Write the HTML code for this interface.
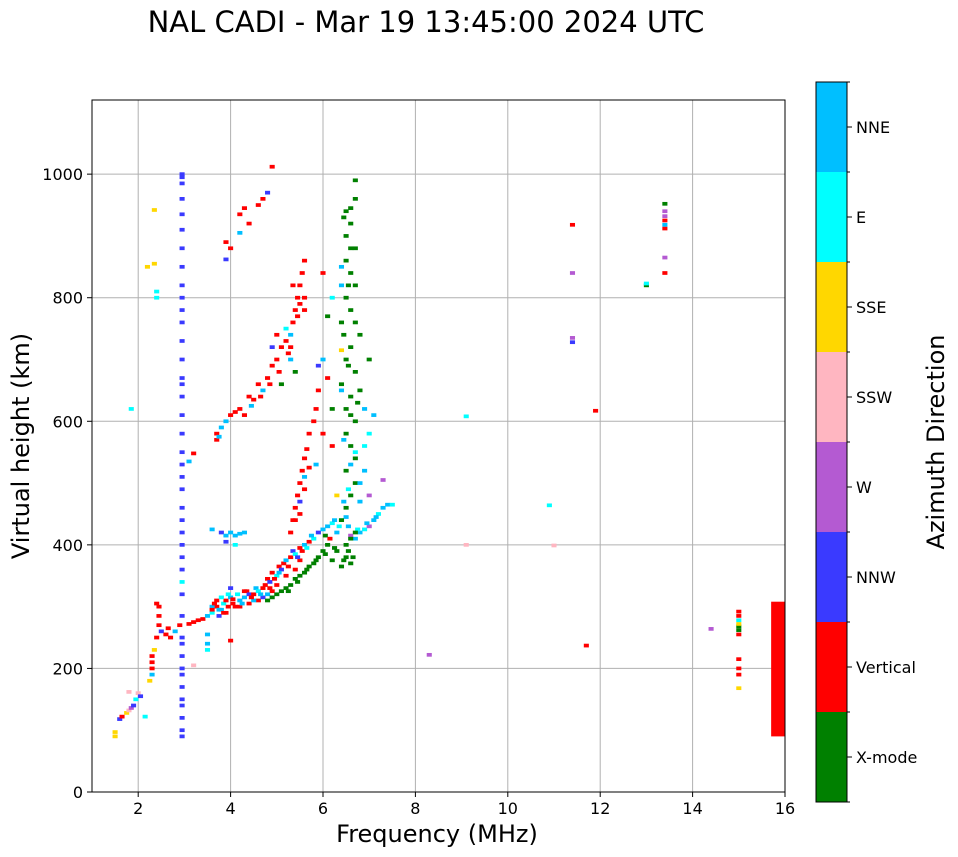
<!DOCTYPE html>
<html><head><meta charset="utf-8">
<style>
html,body{margin:0;padding:0;background:#fff;}
svg{display:block;font-family:"DejaVu Sans","Liberation Sans",sans-serif;}
</style></head>
<body>
<svg id="chart" width="958" height="857" viewBox="0 0 958 857">
<text x="426" y="32" font-size="29" text-anchor="middle">NAL CADI - Mar 19 13:45:00 2024 UTC</text>
<g id="grid"></g>
<g id="marks"></g>
<rect x="92" y="100" width="693" height="692" fill="none" stroke="#000" stroke-width="1"/>
<g id="axes"></g>
<text x="437" y="842" font-size="24" text-anchor="middle">Frequency (MHz)</text>
<text transform="translate(29,446) rotate(-90)" font-size="24" text-anchor="middle">Virtual height (km)</text>
<g id="cbar"></g>
<text transform="translate(944,442) rotate(-90)" font-size="24" text-anchor="middle">Azimuth Direction</text>
</svg>
<script>
const categories = ["X-mode","Vertical","NNW","W","SSW","SSE","E","NNE"];
const catColors = ["#008000","#ff0000","#3a3aff","#b45ad2","#ffb6c1","#ffd700","#00ffff","#00bfff"];
const xTicks = [2,4,6,8,10,12,14,16];
const yTicks = [0,200,400,600,800,1000];
// [frequency MHz, virtual height km, category index]
const echoes = [
[1.5,90,5],[1.5,97,5],[1.6,118,2],[1.65,122,1],[1.75,128,5],[1.8,132,4],[1.85,136,3],[1.9,140,2],[1.95,150,6],[2.0,160,4],[2.05,155,2],[2.25,180,5],[2.3,190,7],[2.3,200,1],[2.3,210,1],[2.3,220,1],[2.35,230,5],[2.4,250,1],[2.45,270,1],[2.45,285,1],[2.45,300,1],[2.4,305,1],[2.5,260,2],[2.6,255,1],[2.65,265,1],[2.7,250,1],[2.8,260,7],[2.9,270,1],[3.1,272,1],[3.2,275,1],[3.3,278,1],[3.4,280,1],[3.5,285,7],[3.6,290,6],[3.7,300,1],[3.75,285,2],[3.8,295,7],[3.85,305,6],[3.9,310,1],[3.95,300,1],[4.0,315,7],[4.05,305,1],[4.1,300,1],[4.15,320,6],[4.2,310,7],[4.3,315,7],[4.35,325,1],[4.4,320,2],[4.5,320,1],[4.55,330,7],[4.6,325,6],[4.7,330,1],[4.75,335,1],[4.8,345,1],[4.85,340,2],[4.9,355,1],[5.0,350,6],[5.05,365,1],[5.1,360,2],[5.15,370,1],[5.2,375,7],[5.3,380,1],[5.35,390,2],[5.4,385,6],[5.5,395,1],[5.6,400,7],[5.7,405,1],[5.8,410,6],[5.9,420,2],[6.0,425,7],[6.1,430,7],[6.2,435,6],[6.3,420,7],[6.4,440,6],[6.5,445,7],[6.6,415,3],[6.7,410,7],[6.8,420,7],[6.9,425,6],[7.0,430,3],[7.1,440,7],[7.2,450,6],[7.3,460,7],[7.4,465,7],[7.5,465,6],
[3.6,300,7],[3.7,310,1],[3.8,315,6],[3.9,290,1],[4.0,330,2],[4.4,305,1],[4.6,310,1],[4.7,315,2],[4.9,325,1],[5.0,335,1],[5.2,350,1],[5.4,360,1],[5.5,375,1],[3.6,295,1],[4.2,300,1],[4.5,310,7],[4.8,320,7],
[3.65,305,1],[3.75,295,7],[3.85,290,1],[3.95,320,6],[4.05,312,1],[4.25,305,7],[4.45,315,1],[4.65,320,7],[4.85,330,1],[4.95,345,1],[5.05,355,7],[5.25,365,1],[5.45,380,2],[5.55,390,1],[5.65,395,6],[5.75,415,7],[6.05,415,0],[6.15,410,1],[6.25,440,7],[6.35,430,6],[6.55,430,7],[6.75,425,6],[6.95,435,7],[7.15,445,7],
[4.8,310,0],[4.9,315,0],[5.0,320,0],[5.1,325,0],[5.2,330,0],[5.3,335,0],[5.4,345,0],[5.5,350,0],[5.6,355,0],[5.7,365,0],[5.8,370,0],[5.9,380,0],[6.0,390,0],[6.1,400,0],[6.3,390,0],[6.5,380,0],[6.6,370,0],[6.5,400,0],[6.6,410,0],[6.7,420,0],[6.2,375,0],[6.4,365,0],
[5.25,325,0],[5.45,340,0],[5.65,360,0],[5.85,375,0],[6.05,385,0],[6.25,395,0],[6.45,375,0],[6.55,390,0],[6.65,380,0],
[5.3,420,1],[5.35,440,1],[5.4,460,1],[5.45,480,1],[5.5,500,1],[5.55,520,1],[5.6,540,1],[5.65,555,1],[5.7,580,1],[5.8,600,1],[5.85,620,1],[5.9,650,1],[5.85,530,7],[5.5,470,2],[5.6,510,7],[5.4,440,1],[5.5,450,1],[5.6,490,1],[5.7,525,1],
[3.7,570,1],[3.7,580,1],[3.8,590,7],[3.9,600,7],[4.0,610,1],[4.1,615,1],[4.2,620,1],[4.3,610,1],[4.4,640,1],[4.5,635,1],[4.6,660,1],[4.7,650,7],[4.8,670,1],[4.9,690,1],[5.0,700,1],[5.1,720,1],[5.2,730,1],[5.3,720,1],[5.35,760,1],[5.4,780,1],[5.45,800,1],[5.5,820,1],[5.55,840,1],[5.6,860,1],[5.2,750,6],[5.3,700,7],[4.9,720,2],[5.0,740,1],[5.6,800,1],[5.6,780,1],[5.4,680,0],[5.1,660,0],
[3.75,575,7],[4.45,625,7],[4.65,640,1],[4.85,660,1],[5.05,680,1],[5.25,710,1],[5.3,740,7],[5.45,770,1],[5.5,790,1],[5.35,820,1],
[6.4,440,0],[6.5,460,0],[6.6,480,0],[6.7,500,0],[6.5,520,0],[6.7,540,0],[6.6,560,0],[6.5,580,0],[6.7,600,0],[6.5,620,0],[6.6,640,0],[6.4,660,0],[6.7,680,0],[6.5,700,0],[6.6,720,0],[6.8,740,0],[6.4,760,0],[6.6,780,0],[6.5,800,0],[6.7,820,0],[6.6,840,0],[6.5,860,0],[6.7,880,0],[6.5,900,0],[6.6,920,0],[6.5,940,0],[6.7,960,0],[6.7,990,0],[6.4,820,7],[6.4,850,7],[6.8,500,7],[6.9,560,6],[7.0,580,6],[7.1,610,7],[6.2,620,0],[6.0,700,7],[6.1,770,0],[6.2,800,6],[5.9,690,2],[6.9,520,7],[6.8,470,7],[7.0,480,3],[6.3,480,5],[6.4,715,5],[7.3,505,3],[6.2,560,1],[6.0,580,1],[6.1,670,1],[6.0,840,1],[6.4,650,7],[6.8,650,0],[7.0,700,0],[6.9,620,7],
[6.45,470,7],[6.55,490,6],[6.6,530,7],[6.7,550,6],[6.45,570,7],[6.6,610,0],[6.75,630,0],[6.55,690,0],[6.45,740,0],[6.7,760,0],[6.55,820,0],[6.6,880,0],[6.45,930,0],[6.6,945,0],
[3.9,862,2],[3.9,890,1],[4.0,880,1],[4.2,905,7],[4.3,945,1],[4.4,920,1],[4.6,950,1],[4.7,960,1],[4.8,970,2],[4.9,1012,1],[4.2,935,1],
[3.2,548,1],[3.1,535,7],[3.6,425,7],[3.8,420,2],[3.9,415,7],[4.0,420,7],[4.1,415,7],[4.2,418,7],[3.9,405,2],[4.1,400,6],[4.3,420,7],[3.5,240,7],[3.5,255,7],[3.5,230,6],[4.0,245,1],[4.3,325,1],
[2.95,90,2],[2.95,100,2],[2.95,120,2],[2.95,140,2],[2.95,150,2],[2.95,170,2],[2.95,190,2],[2.95,200,2],[2.95,220,2],[2.95,240,2],[2.95,250,2],[2.95,285,2],[2.95,320,2],[2.95,340,6],[2.95,360,2],[2.95,380,2],[2.95,400,2],[2.95,420,2],[2.95,440,2],[2.95,460,2],[2.95,490,2],[2.95,510,2],[2.95,530,2],[2.95,550,2],[2.95,580,2],[2.95,610,2],[2.95,640,2],[2.95,660,2],[2.95,670,2],[2.95,700,2],[2.95,730,2],[2.95,760,2],[2.95,780,2],[2.95,800,2],[2.95,820,2],[2.95,850,2],[2.95,880,2],[2.95,910,2],[2.95,935,2],[2.95,960,2],[2.95,985,2],[2.95,995,2],[2.95,1000,2],
[2.35,942,5],[2.2,850,5],[2.35,855,5],[2.4,810,6],[2.4,800,6],[1.85,620,6],[2.15,122,6],[3.2,205,4],[1.8,162,4],
[13.4,840,1],[13.4,865,3],[13.4,912,1],[13.4,918,7],[13.4,925,1],[13.4,932,3],[13.4,940,3],[13.4,952,0],[13.0,820,0],[13.0,823,6],
[11.4,918,1],[11.4,840,3],[11.4,728,2],[11.4,735,3],[11.9,617,1],[9.1,608,6],[9.1,400,4],[10.9,464,6],[11.0,399,4],[11.7,237,1],[8.3,222,3],[14.4,264,3],
[15.0,168,5],[15.0,190,1],[15.0,200,1],[15.0,215,1],[15.0,255,1],[15.0,262,0],[15.0,268,0],[15.0,272,5],[15.0,278,6],[15.0,285,1],[15.0,292,1]
];
// [freq start, freq end, height start, height end, category]
const blocks = [[15.7,16.0,90,308,1]];

const X0=92, X1=785, Y0=792, Y1=100;
const fMin=1, fMax=16, hMin=0, hMax=1120;
const xs = f => X0 + (f-fMin)/(fMax-fMin)*(X1-X0);
const ys = h => Y0 - (h-hMin)/(hMax-hMin)*(Y0-Y1);
const NS="http://www.w3.org/2000/svg";
function mk(tag, attrs, parent){const e=document.createElementNS(NS,tag);for(const k in attrs)e.setAttribute(k,attrs[k]);parent.appendChild(e);return e;}
const grid=document.getElementById('grid'), axes=document.getElementById('axes'), marks=document.getElementById('marks'), cbar=document.getElementById('cbar');

xTicks.forEach(t=>{
  const x=xs(t);
  const gl=mk('line',{x1:x,x2:x,y1:Y1,y2:Y0,stroke:'#b0b0b0','stroke-width':1},grid);
  
  
  const tk=mk('line',{x1:x,x2:x,y1:Y0,y2:Y0+5,stroke:'#000'},axes);
  
  
  const tx=mk('text',{x:x,y:Y0+22,'font-size':16,'text-anchor':'middle'},axes);
  tx.textContent=t;
  
  
});
yTicks.forEach(t=>{
  const y=ys(t);
  const gl=mk('line',{x1:X0,x2:X1,y1:y,y2:y,stroke:'#b0b0b0','stroke-width':1},grid);
  
  
  const tk=mk('line',{x1:X0-5,x2:X0,y1:y,y2:y,stroke:'#000'},axes);
  
  
  const tx=mk('text',{x:X0-9,y:y+6,'font-size':16,'text-anchor':'end'},axes);
  tx.textContent=t;
  
  
});

const bw=xs(0.11)-xs(0), bh=ys(0)-ys(6);
echoes.forEach(p=>{
  const r=mk('rect',{x:xs(p[0])-bw/2,y:ys(p[1])-bh/2,width:bw,height:bh,fill:catColors[p[2]]},marks);
  
  
});
blocks.forEach(b=>{
  const r=mk('rect',{x:xs(b[0]),y:ys(b[3]),width:xs(b[1])-xs(b[0]),height:ys(b[2])-ys(b[3]),fill:catColors[b[4]]},marks);
  
  
});

const CX=816, CW=31, CT=82, CB=802, n=categories.length, band=(CB-CT)/n;
categories.forEach((c,i)=>{
  const yTop=CB-(i+1)*band;
  const r=mk('rect',{x:CX,y:yTop,width:CW,height:band,fill:catColors[i]},cbar);
  
  
  const tk=mk('line',{x1:CX+CW,x2:CX+CW+5,y1:yTop+band/2,y2:yTop+band/2,stroke:'#000'},cbar);
  
  
  const tx=mk('text',{x:CX+CW+9,y:yTop+band/2+6,'font-size':16},cbar);
  tx.textContent=c;
  
  
});
for(let i=0;i<=n;i++){
  const y=CT+i*band;
  const tk=mk('line',{x1:CX+CW,x2:CX+CW+3,y1:y,y2:y,stroke:'#000'},cbar);
  
  
}
const fr=mk('rect',{x:CX,y:CT,width:CW,height:CB-CT,fill:'none',stroke:'#000'},cbar);


</script>
</body></html>
